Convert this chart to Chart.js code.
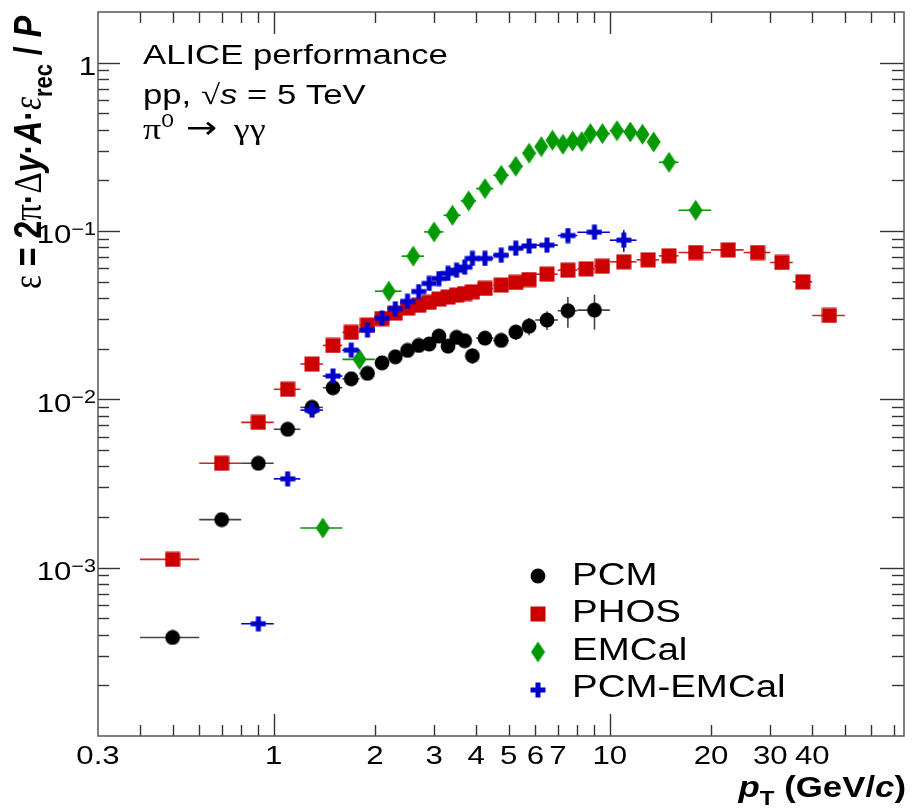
<!DOCTYPE html>
<html>
<head>
<meta charset="utf-8">
<title>pi0 efficiency pp 5 TeV</title>
<script src="https://cdn.jsdelivr.net/npm/chart.js@4.4.1/dist/chart.umd.min.js"></script>
<style>
  html, body { margin: 0; padding: 0; background: #fff; }
  canvas { display: block; }
</style>
</head>
<body>
<canvas id="effChart" width="912" height="809"></canvas>
<script>
// --- values ---
const pcmPt   = [0.5, 0.7, 0.9, 1.1, 1.3, 1.5, 1.7, 1.9, 2.1, 2.3, 2.5, 2.7, 2.9, 3.1, 3.3, 3.5, 3.7, 3.9, 4.25, 4.75, 5.25, 5.75, 6.5, 7.5, 9];
const pcmEff  = [3.85e-4, 1.93e-3, 4.17e-3, 6.64e-3, 8.96e-3, 0.01172, 0.01325, 0.01427, 0.01648, 0.0179, 0.01953, 0.0209, 0.0213, 0.02375, 0.0207, 0.02333, 0.0223, 0.01815, 0.0231, 0.0224, 0.0251, 0.0272, 0.0296, 0.0336, 0.0339];
const pcmErrX = [0.1, 0.1, 0.1, 0.1, 0.1, 0.1, 0.1, 0.1, 0.1, 0.1, 0.1, 0.1, 0.1, 0.1, 0.1, 0.1, 0.1, 0.1, 0.25, 0.25, 0.25, 0.25, 0.5, 0.5, 1];
const pcmErrY = [0.00002, 0.00008, 0.00015, 0.0002, 0.00025, 0.0003, 0.00035, 0.0004, 0.00045, 0.0005, 0.00055, 0.0006, 0.0007, 0.0008, 0.0008, 0.0009, 0.001, 0.0019, 0.0016, 0.0019, 0.0026, 0.0032, 0.0038, 0.007, 0.008];

const phosPt   = [0.5, 0.7, 0.9, 1.1, 1.3, 1.5, 1.7, 1.9, 2.1, 2.3, 2.5, 2.7, 2.9, 3.1, 3.3, 3.5, 3.7, 3.9, 4.25, 4.75, 5.25, 5.75, 6.5, 7.5, 8.5, 9.5, 11, 13, 15, 18, 22.5, 27.5, 32.5, 37.5, 45];
const phosEff  = [1.12e-3, 4.17e-3, 7.3e-3, 0.01147, 0.0162, 0.0209, 0.025, 0.0276, 0.0302, 0.0325, 0.0348, 0.0362, 0.0377, 0.0394, 0.0405, 0.0416, 0.0425, 0.0435, 0.0456, 0.0477, 0.0495, 0.0515, 0.0554, 0.0585, 0.0596, 0.0618, 0.0656, 0.0674, 0.0712, 0.0745, 0.0772, 0.0745, 0.065, 0.0499, 0.0315];
const phosErrX = [0.1, 0.1, 0.1, 0.1, 0.1, 0.1, 0.1, 0.1, 0.1, 0.1, 0.1, 0.1, 0.1, 0.1, 0.1, 0.1, 0.1, 0.1, 0.25, 0.25, 0.25, 0.25, 0.5, 0.5, 0.5, 0.5, 1, 1, 1, 2, 2.5, 2.5, 2.5, 2.5, 5];
const phosErrY = [0.00003, 0.0001, 0.00015, 0.0002, 0.0003, 0.0004, 0.0004, 0.0005, 0.0005, 0.0005, 0.0006, 0.0006, 0.0006, 0.0007, 0.0007, 0.0007, 0.0007, 0.0008, 0.0008, 0.0009, 0.0009, 0.001, 0.001, 0.0012, 0.0013, 0.0014, 0.0014, 0.0016, 0.0018, 0.0018, 0.002, 0.0022, 0.0022, 0.002, 0.0016];

const emcPt   = [1.4, 1.8, 2.2, 2.6, 3.0, 3.4, 3.8, 4.25, 4.75, 5.25, 5.75, 6.25, 6.75, 7.25, 7.75, 8.25, 8.75, 9.5, 10.5, 11.5, 12.5, 13.5, 15, 18];
const emcEff  = [1.72e-3, 0.01728, 0.0439, 0.0709, 0.0988, 0.124, 0.151, 0.1787, 0.2143, 0.2424, 0.2897, 0.317, 0.346, 0.3275, 0.3425, 0.34, 0.379, 0.379, 0.3944, 0.3875, 0.3754, 0.338, 0.256, 0.1328];
const emcErrX = [0.2, 0.2, 0.2, 0.2, 0.2, 0.2, 0.2, 0.25, 0.25, 0.25, 0.25, 0.25, 0.25, 0.25, 0.25, 0.25, 0.25, 0.5, 0.5, 0.5, 0.5, 0.5, 1, 2];
const emcErrY = [0.00008, 0.0005, 0.001, 0.0015, 0.002, 0.0025, 0.003, 0.0035, 0.004, 0.0045, 0.005, 0.0055, 0.006, 0.006, 0.0065, 0.007, 0.0075, 0.008, 0.0085, 0.009, 0.009, 0.009, 0.008, 0.006];

const pcmEmcPt   = [0.9, 1.1, 1.3, 1.5, 1.7, 1.9, 2.1, 2.3, 2.5, 2.7, 2.9, 3.1, 3.3, 3.5, 3.7, 3.9, 4.25, 4.75, 5.25, 5.75, 6.5, 7.5, 9, 11];
const pcmEmcEff  = [4.64e-4, 3.37e-3, 8.63e-3, 0.01375, 0.0196, 0.0258, 0.0303, 0.0345, 0.0382, 0.0437, 0.0488, 0.0522, 0.056, 0.0585, 0.061, 0.0687, 0.0687, 0.0718, 0.079, 0.0815, 0.0824, 0.094, 0.0984, 0.0882];
const pcmEmcErrX = [0.1, 0.1, 0.1, 0.1, 0.1, 0.1, 0.1, 0.1, 0.1, 0.1, 0.1, 0.1, 0.1, 0.1, 0.1, 0.1, 0.25, 0.25, 0.25, 0.25, 0.5, 0.5, 1, 1];
const pcmEmcErrY = [0.00003, 0.0001, 0.0002, 0.0003, 0.0004, 0.0005, 0.0006, 0.0007, 0.0008, 0.0009, 0.001, 0.0011, 0.0012, 0.0013, 0.0014, 0.0016, 0.0016, 0.0018, 0.0022, 0.0025, 0.0028, 0.004, 0.006, 0.013];

const seriesNames = ['PCM', 'PHOS', 'EMCal', 'PCM-EMCal'];
const xTickLabels = [0.3, 1, 2, 3, 4, 5, 6, 7, 10, 20, 30, 40];
const yTickExp    = [0, -1, -2, -3];   // labelled decades 10^n
const xRange = [0.3, 75];
const yRange = [1e-4, 2];

const SANS = '"Liberation Sans", Arial, sans-serif';
const SERIF = '"Liberation Serif", "Times New Roman", serif';
const STRETCH = 1.2;   // text in the picture is a bit wider than normal
const STRETCH_BIG = 1.24;

// --- markers (ROOT style) ---
function markerCanvas(w, h, draw) {
    const c = document.createElement('canvas');
    c.width = w; c.height = h;
    draw(c.getContext('2d'), w, h);
    return c;
}
const mCircle = markerCanvas(16, 16, (g) => { g.fillStyle = '#000'; g.beginPath(); g.arc(8, 8, 7.4, 0, 2 * Math.PI); g.fill(); });
const mSquare = markerCanvas(16, 16, (g) => { g.fillStyle = '#cc0000'; g.fillRect(0.5, 0.5, 15, 15); });
const mDiamond = markerCanvas(15, 22, (g) => {
    g.fillStyle = '#009900'; g.beginPath();
    g.moveTo(7.5, 0.5); g.lineTo(14.5, 11); g.lineTo(7.5, 21.5); g.lineTo(0.5, 11); g.closePath(); g.fill();
});
const mCross = markerCanvas(16, 16, (g) => { g.fillStyle = '#0000cc'; g.fillRect(5.5, 0.5, 5, 15); g.fillRect(0.5, 5.5, 15, 5); });
const markers = [mCircle, mSquare, mDiamond, mCross];

function pts(xs, ys) { return xs.map((x, i) => ({ x: x, y: ys[i] })); }

// --- text helpers ---
function runsWidth(ctx, runs) {
    let w = 0;
    runs.forEach(r => { ctx.font = r.font; w += ctx.measureText(r.t).width + (r.dx || 0); });
    return w;
}
function drawRuns(ctx, runs, x, y, o) {
    o = o || {};
    ctx.save();
    ctx.translate(x, y);
    if (o.rot) ctx.rotate(o.rot);
    ctx.scale(o.sx || 1, o.sy || 1);
    ctx.fillStyle = '#000';
    ctx.textBaseline = 'alphabetic';
    ctx.textAlign = 'left';
    const w = runsWidth(ctx, runs);
    let cx = o.align === 'right' ? -w : (o.align === 'center' ? -w / 2 : 0);
    runs.forEach(r => {
        ctx.font = r.font;
        cx += r.dx || 0;
        ctx.fillText(r.t, cx, r.dy || 0);
        cx += ctx.measureText(r.t).width;
    });
    ctx.restore();
    return w;
}

function isDecade(v) { const l = Math.log10(v); return Math.abs(l - Math.round(l)) < 1e-6; }

function line(ctx, x0, y0, x1, y1) { ctx.beginPath(); ctx.moveTo(x0, y0); ctx.lineTo(x1, y1); ctx.stroke(); }

// frame, ticks on all four sides, tick labels
function drawAxes(chart) {
    const ctx = chart.ctx, xs = chart.scales.x, ys = chart.scales.y, a = chart.chartArea;
    ctx.save();
    ctx.strokeStyle = '#333';
    ctx.lineWidth = 1.4;
    for (let d = 0.1; d <= 100; d *= 10) {
        for (let m = 1; m <= 9; m++) {
            const v = m * d;
            if (v <= xRange[0] * 1.001 || v >= xRange[1]) continue;
            const px = Math.round(xs.getPixelForValue(v)) + 0.5;
            const len = isDecade(v) ? 22 : 11;
            line(ctx, px, a.bottom, px, a.bottom - len);
            line(ctx, px, a.top, px, a.top + len);
        }
    }
    for (let d = 1e-4; d <= 1; d *= 10) {
        for (let m = 1; m <= 9; m++) {
            const v = m * d;
            if (v <= yRange[0] * 1.001 || v >= yRange[1]) continue;
            const py = Math.round(ys.getPixelForValue(v)) + 0.5;
            const major = isDecade(v);
            line(ctx, a.left, py, a.left + (major ? 22 : 11), py);
            line(ctx, a.right, py, a.right - (major ? 24 : 12), py);
        }
    }
    ctx.strokeStyle = '#555';
    ctx.lineWidth = 1.5;
    ctx.strokeRect(a.left, a.top, a.right - a.left, a.bottom - a.top);
    ctx.restore();

    xTickLabels.forEach(v => {
        drawRuns(ctx, [{ t: String(v), font: '26px ' + SANS }], xs.getPixelForValue(v), 764, { sx: STRETCH, align: 'center' });
    });
    yTickExp.forEach(n => {
        const py = ys.getPixelForValue(Math.pow(10, n));
        if (n === 0) {
            drawRuns(ctx, [{ t: '1', font: '26px ' + SANS }], 96, py + 12.7, { sx: STRETCH, align: 'right' });
        } else {
            drawRuns(ctx, [{ t: '10', font: '26px ' + SANS, dy: 12.3 }, { t: '\u2212' + (-n), font: '18px ' + SANS, dy: 4 }], 96, py, { sx: STRETCH, align: 'right' });
        }
    });
}

function drawTitles(chart) {
    const ctx = chart.ctx;
    // x title, right aligned to the frame
    drawRuns(ctx, [
        { t: 'p', font: 'italic bold 29px ' + SANS },
        { t: 'T', font: 'bold 20px ' + SANS, dy: 8 },
        { t: ' (GeV/', font: 'bold 29px ' + SANS },
        { t: 'c', font: 'italic bold 29px ' + SANS },
        { t: ')', font: 'bold 29px ' + SANS }
    ], 906, 797, { sx: STRETCH, align: 'right' });

    // y title, rotated, ends near the top of the axis
    const yRuns = [
        { t: '\u03b5', font: '33px ' + SERIF },
        { t: ' = 2', font: 'bold 32px ' + SANS },
        { t: '\u03c0', font: '33px ' + SERIF },
        { t: '\u00b7', font: 'bold 32px ' + SANS },
        { t: '\u0394', font: '33px ' + SERIF },
        { t: 'y', font: 'italic bold 32px ' + SANS },
        { t: '\u00b7', font: 'bold 32px ' + SANS },
        { t: 'A', font: 'italic bold 32px ' + SANS },
        { t: '\u00b7', font: 'bold 32px ' + SANS },
        { t: '\u03b5', font: 'italic 33px ' + SERIF },
        { t: 'rec', font: 'bold 22px ' + SANS, dy: 9 },
        { t: ' / ', font: 'bold 32px ' + SANS },
        { t: 'P', font: 'italic bold 32px ' + SANS }
    ];
    const w = runsWidth(ctx, yRuns);
    drawRuns(ctx, yRuns, 41, 16 + w, { rot: -Math.PI / 2, sy: STRETCH });
}

function drawHeader(chart) {
    const ctx = chart.ctx;
    drawRuns(ctx, [{ t: 'ALICE performance', font: '28px ' + SANS }], 143, 63.5, { sx: STRETCH_BIG });
    drawRuns(ctx, [
        { t: 'pp, ', font: '28px ' + SANS },
        { t: '\u221a', font: '28px ' + SERIF },
        { t: 's', font: 'italic 28px ' + SANS },
        { t: ' = 5 TeV', font: '28px ' + SANS }
    ], 143, 104, { sx: STRETCH_BIG });
    drawRuns(ctx, [
        { t: '\u03c0', font: '30px ' + SERIF },
        { t: '0', font: '19px ' + SANS, dy: -12 },
        { t: '\u2192', font: '31px "DejaVu Sans", sans-serif', dy: -1, dx: 10 },
        { t: '\u03b3\u03b3', font: '30px ' + SERIF, dx: 14 }
    ], 143, 138.5, { sx: STRETCH });
}

function drawLegend(chart) {
    const ctx = chart.ctx;
    const markY = [576, 614, 652, 690];
    const textY = [584.5, 621.5, 659.5, 696.5];
    seriesNames.forEach((name, i) => {
        const m = markers[i];
        ctx.drawImage(m, 538 - m.width / 2, markY[i] - m.height / 2);
        drawRuns(ctx, [{ t: name, font: '31px ' + SANS }], 572, textY[i], { sx: STRETCH_BIG });
    });
}

const rootStyle = {
    id: 'rootStyle',
    // error bars go under each graph's own markers
    beforeDatasetDraw(chart, args) {
        const ds = chart.data.datasets[args.index];
        const ctx = chart.ctx, xs = chart.scales.x, ys = chart.scales.y;
        ctx.save();
        ctx.strokeStyle = ds.barColor;
        ctx.lineWidth = 1.6;
        ds.data.forEach((p, i) => {
            const px = xs.getPixelForValue(p.x), py = ys.getPixelForValue(p.y);
            line(ctx, xs.getPixelForValue(p.x - ds.errX[i]), py, xs.getPixelForValue(p.x + ds.errX[i]), py);
            line(ctx, px, ys.getPixelForValue(p.y - ds.errY[i]), px, ys.getPixelForValue(p.y + ds.errY[i]));
        });
        ctx.restore();
    },
    afterDraw(chart) {
        drawAxes(chart);
        drawTitles(chart);
        drawHeader(chart);
        drawLegend(chart);
    }
};

new Chart(document.getElementById('effChart'), {
    type: 'scatter',
    data: {
        datasets: [
            { label: seriesNames[0], data: pts(pcmPt, pcmEff), errX: pcmErrX, errY: pcmErrY, barColor: '#444', pointStyle: mCircle, order: 4 },
            { label: seriesNames[1], data: pts(phosPt, phosEff), errX: phosErrX, errY: phosErrY, barColor: '#d42020', pointStyle: mSquare, order: 3 },
            { label: seriesNames[2], data: pts(emcPt, emcEff), errX: emcErrX, errY: emcErrY, barColor: '#009900', pointStyle: mDiamond, order: 2 },
            { label: seriesNames[3], data: pts(pcmEmcPt, pcmEmcEff), errX: pcmEmcErrX, errY: pcmEmcErrY, barColor: '#0000cc', pointStyle: mCross, order: 1 }
        ]
    },
    options: {
        responsive: false,
        animation: false,
        devicePixelRatio: 1,
        layout: { padding: { left: 98, right: 6, top: 12, bottom: 73 } },
        elements: { point: { radius: 7, hoverRadius: 7 } },
        plugins: { legend: { display: false }, tooltip: { enabled: false } },
        scales: {
            x: { type: 'logarithmic', min: xRange[0], max: xRange[1], display: false },
            y: { type: 'logarithmic', min: yRange[0], max: yRange[1], display: false }
        }
    },
    plugins: [rootStyle]
});
</script>
</body>
</html>
